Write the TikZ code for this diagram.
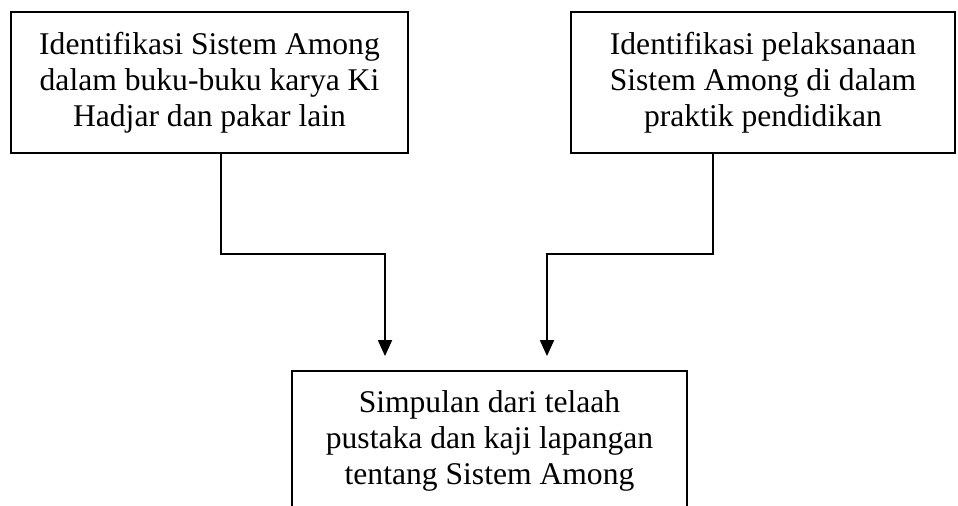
\documentclass[tikz,border=0pt]{standalone}
\usepackage{fontspec}
\setmainfont{Liberation Serif}
\usepackage{tikz}
\usetikzlibrary{positioning, arrows.meta, calc}

\begin{document}
\begin{tikzpicture}[
  x=0.5pt, y=-0.5pt,
  >={Triangle[length=8pt, width=7pt]},
  every node/.style={font=\fontsize{15.8}{18}\selectfont},
  kotak/.style={draw, line width=0.9pt, align=center, inner sep=0pt, minimum height=70.5pt},
  panah/.style={->, line width=0.9pt, shorten >=7pt}
]
% Frame of the picture
\clip (0, 0) rectangle (958, 506);

% Top left: literature
\node[kotak, minimum width=198.5pt] (kitab) at (209.5, 82.5)
  {Identifikasi Sistem Among\\dalam buku-buku karya Ki\\Hadjar dan pakar lain};
% Top right: practice
\node[kotak, minimum width=192pt] (praktik) at (763, 82.5)
  {Identifikasi pelaksanaan\\Sistem Among di dalam\\praktik pendidikan};
% Bottom: conclusion
\node[kotak, minimum width=197.5pt, minimum height=69.5pt] (simpulan) at (489.5, 440.5)
  {Simpulan dari telaah\\pustaka dan kaji lapangan\\tentang Sistem Among};

% Bends of the connectors
\coordinate (kiriA) at (221, 254);
\coordinate (kiriB) at (385, 254);
\coordinate (kananA) at (713, 254);
\coordinate (kananB) at (547, 254);

\draw[panah] (kitab.south -| kiriA) -- (kiriA) -- (kiriB) -- (kiriB |- simpulan.north);
\draw[panah] (praktik.south -| kananA) -- (kananA) -- (kananB) -- (kananB |- simpulan.north);

\end{tikzpicture}
\end{document}
